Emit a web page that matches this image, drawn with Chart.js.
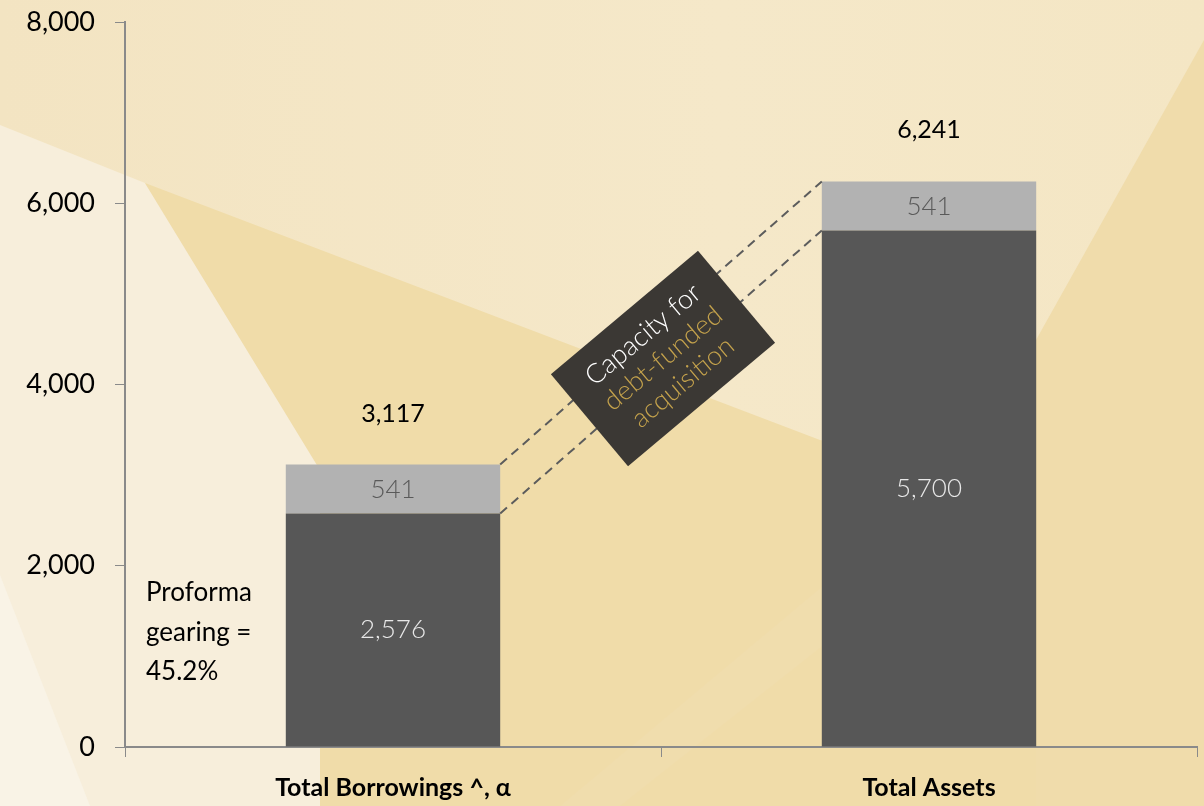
<!DOCTYPE html>
<html>
<head>
<meta charset="utf-8">
<script src="https://cdn.jsdelivr.net/npm/chart.js@4.4.0/dist/chart.umd.min.js"></script>
<style>
  html, body { margin: 0; padding: 0; background: #f4e6c6; }
  #wrap { width: 1204px; height: 806px; }
</style>
</head>
<body>
<div id="wrap"><canvas id="myChart" width="1204" height="806"></canvas></div>
<script>
var categories = ["Total Borrowings ^, \u03b1", "Total Assets"];
var baseValues = [2576, 5700];
var capacityValues = [541, 541];
var totalValues = [3117, 6241];
var yTicks = [0, 2000, 4000, 6000, 8000];

var FONT = "Lato, 'Open Sans', sans-serif";

// background shapes (decoration only)
var bgPlugin = {
  id: 'bg',
  beforeDraw: function(chart) {
    var c = chart.ctx;
    function poly(pts, col) {
      c.beginPath();
      c.moveTo(pts[0][0], pts[0][1]);
      for (var i = 1; i < pts.length; i++) c.lineTo(pts[i][0], pts[i][1]);
      c.closePath();
      c.fillStyle = col;
      c.fill();
    }
    c.save();
    var g = c.createLinearGradient(0, 0, 1204, 0);
    g.addColorStop(0, '#f3e4c2');
    g.addColorStop(0.6, '#f5e8c9');
    g.addColorStop(1, '#f4e6c4');
    c.fillStyle = g;
    c.fillRect(0, 0, chart.width, chart.height);
    // left light region
    poly([[0, 125], [145, 183], [320, 470], [320, 806], [0, 806]], '#f7eedb');
    poly([[0, 575], [90, 806], [0, 806]], '#f9f3e6');
    // gold region below the diagonal
    poly([[145, 183], [820, 440], [1040, 470], [1040, 806], [320, 806], [320, 470]], '#f0dca9');
    // soft streak in the lower middle
    poly([[560, 806], [830, 580], [830, 640], [620, 806]], '#f0ddad');
    // right side gold
    poly([[1204, 40], [1036, 340], [1036, 806], [1204, 806]], '#f0dcab');
    c.restore();
  }
};

// labels, dashed connectors and the rotated note
var notesPlugin = {
  id: 'notes',
  afterDatasetsDraw: function(chart) {
    var c = chart.ctx;
    var m0 = chart.getDatasetMeta(0).data;
    var m1 = chart.getDatasetMeta(1).data;
    c.save();
    c.textAlign = 'center';
    c.textBaseline = 'middle';
    for (var i = 0; i < categories.length; i++) {
      var b = m0[i], t = m1[i];
      c.font = '300 26px ' + FONT;
      c.fillStyle = '#e8e8e8';
      c.fillText(baseValues[i].toLocaleString('en-US'), b.x, (b.y + b.base) / 2);
      c.fillStyle = '#5a5a5a';
      c.fillText(capacityValues[i].toLocaleString('en-US'), t.x, (t.y + t.base) / 2 + 1);
      c.font = '400 25px ' + FONT;
      c.fillStyle = '#000';
      c.fillText(totalValues[i].toLocaleString('en-US'), t.x, t.y - 51);
    }

    // dashed connectors
    var w = m0[0].width / 2;
    c.strokeStyle = '#5c5c5c';
    c.lineWidth = 2;
    c.setLineDash([9, 6]);
    c.beginPath();
    c.moveTo(m1[0].x + w, m1[0].y);
    c.lineTo(m1[1].x - w, m1[1].y);
    c.moveTo(m0[0].x + w, m0[0].y);
    c.lineTo(m0[1].x - w, m0[1].y);
    c.stroke();
    c.setLineDash([]);

    // rotated box
    var cx = (m1[0].x + w + m1[1].x - w) / 2 + 2;
    var cy = (m1[0].y + m1[1].y + m0[0].y + m0[1].y) / 4 + 11;
    c.translate(cx, cy);
    c.rotate(-40 * Math.PI / 180);
    c.fillStyle = '#3b3834';
    c.fillRect(-96, -60, 192, 120);
    c.font = '300 27px ' + FONT;
    c.fillStyle = '#ffffff';
    c.fillText('Capacity for', 0, -31);
    c.fillStyle = '#c4a24c';
    c.fillText('debt-funded', 0, 0);
    c.fillText('acquisition', 0, 31);
    c.restore();

    // gearing note
    c.save();
    c.font = '400 26px ' + FONT;
    c.fillStyle = '#000';
    c.textAlign = 'left';
    c.textBaseline = 'middle';
    c.fillText('Proforma', 146, 593);
    c.fillText('gearing =', 146, 633);
    c.fillText('45.2%', 146, 672);
    c.restore();
  }
};

var ctx = document.getElementById('myChart').getContext('2d');
new Chart(ctx, {
  type: 'bar',
  data: {
    labels: categories,
    datasets: [
      { label: 'Base', data: baseValues, backgroundColor: '#575757',
        barPercentage: 0.4, categoryPercentage: 1 },
      { label: 'Capacity', data: capacityValues, backgroundColor: '#b2b2b2',
        barPercentage: 0.4, categoryPercentage: 1 }
    ]
  },
  options: {
    responsive: false,
    animation: false,
    devicePixelRatio: 1,
    layout: { padding: { top: 22, right: 7, left: 0, bottom: 0 } },
    plugins: { legend: { display: false }, tooltip: { enabled: false } },
    scales: {
      x: {
        stacked: true,
        grid: { drawOnChartArea: false, drawTicks: true, tickLength: 10, color: '#8a8a8a', offset: true },
        border: { color: '#8a8a8a', width: 2 },
        ticks: { color: '#000', padding: 16, font: { family: FONT, size: 25, weight: 'bold' } },
        afterFit: function(s) { s.height = 59; s.paddingLeft = 0; s.paddingRight = 0; }
      },
      y: {
        stacked: true,
        min: 0,
        max: 8000,
        afterBuildTicks: function(s) { s.ticks = yTicks.map(function(v) { return { value: v }; }); },
        grid: { drawOnChartArea: false, drawTicks: true, tickLength: 10, color: '#8a8a8a' },
        border: { color: '#8a8a8a', width: 2 },
        ticks: {
          color: '#000', padding: 20,
          font: { family: FONT, size: 27 },
          callback: function(v) { return v.toLocaleString('en-US'); }
        },
        afterFit: function(s) { s.width = 125; s.paddingTop = 0; s.paddingBottom = 0; }
      }
    }
  },
  plugins: [bgPlugin, notesPlugin]
});
</script>
</body>
</html>
